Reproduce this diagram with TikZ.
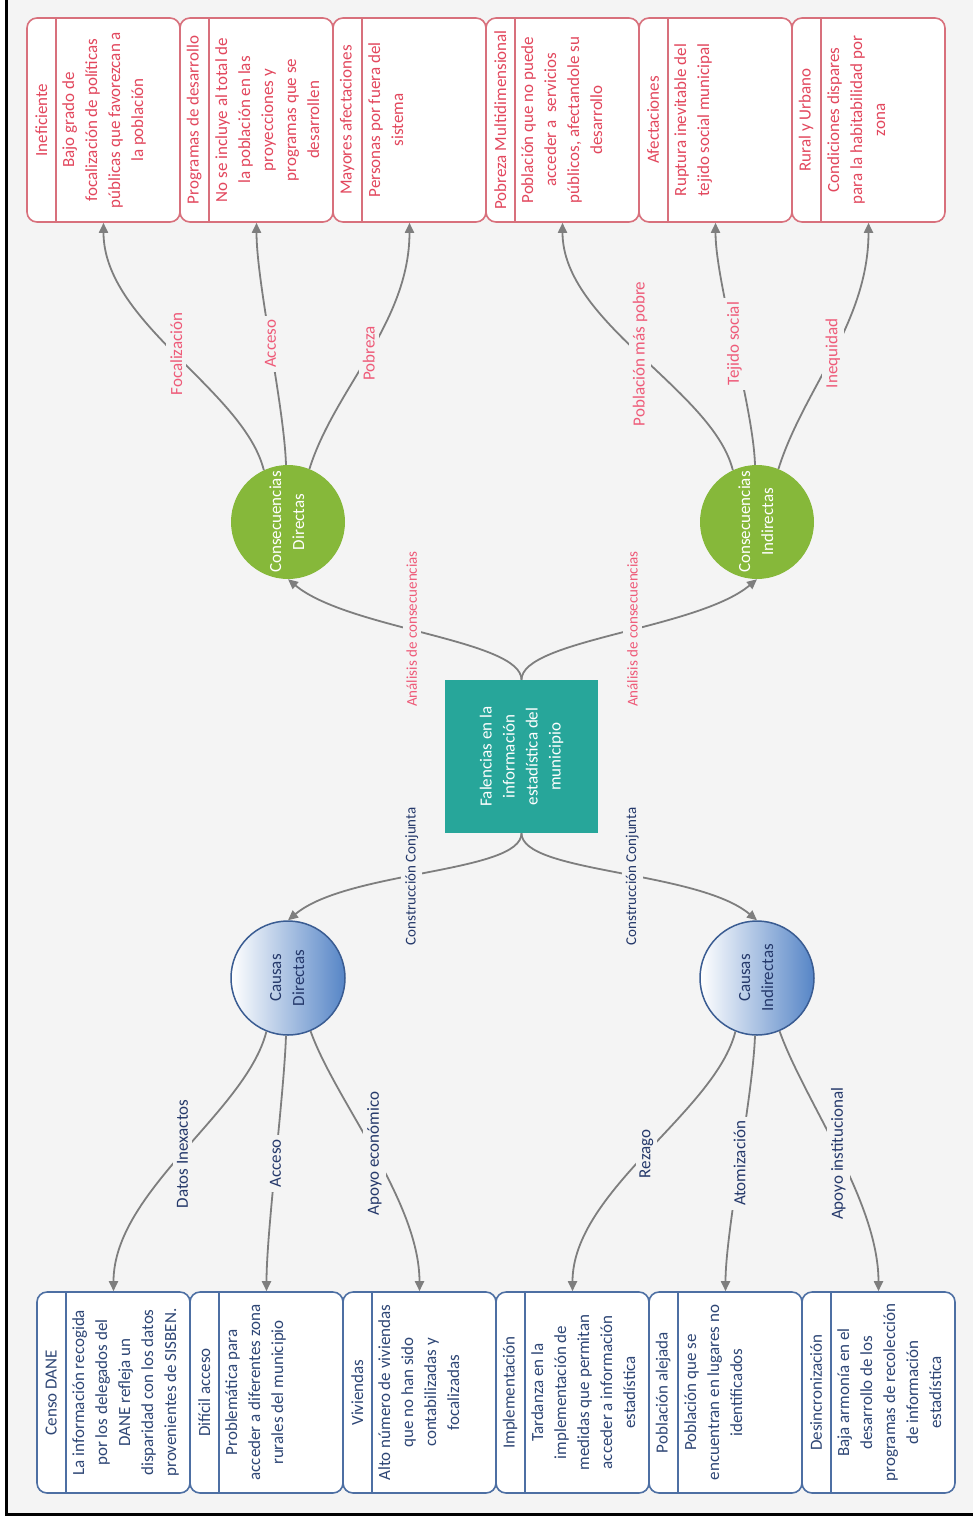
\documentclass[tikz,border=0pt]{standalone}
\usepackage{fontspec}
\setmainfont{Carlito}
\usepackage{graphicx}
\usetikzlibrary{arrows.meta}
\definecolor{bg}{HTML}{F4F4F4}
\definecolor{cblue}{HTML}{4D6FA3}
\definecolor{navy}{HTML}{24386A}
\definecolor{boxnavy}{HTML}{2E4675}
\definecolor{cred}{HTML}{D8707C}
\definecolor{redtxt}{HTML}{E2475D}
\definecolor{pinklbl}{HTML}{EE5A78}
\definecolor{tealc}{HTML}{27A69A}
\definecolor{cgreen}{HTML}{86B83A}
\definecolor{conncol}{HTML}{7E7E7E}
\definecolor{circblue}{HTML}{5685C6}
\definecolor{circborder}{HTML}{3A5C92}
\newcommand{\mkbox}[6]{%
  \node[#2box] (#1) at (#3,#4) {};
  \draw[#2line] ([xshift=30pt]#1.north west) -- ([xshift=30pt]#1.south west);
  \node[#2hdr] (#1h) at ([xshift=15pt]#1.west) {#5};
  \node[#2body] (#1t) at ([xshift=36pt]#1.west) {#6};
}
\tikzset{
  txt/.style={font=\fontsize{17}{23}\selectfont},
  bluebox/.style={draw=cblue, line width=1.6pt, fill=white, rounded corners=10pt, minimum width=153pt, minimum height=201pt, inner sep=0pt},
  blueline/.style={draw=cblue, line width=1.6pt},
  bluehdr/.style={txt, rotate=90, text=boxnavy, inner sep=0pt},
  bluebody/.style={txt, rotate=90, anchor=north, align=center, text=boxnavy, inner sep=0pt},
  redbox/.style={draw=cred, line width=1.6pt, fill=white, rounded corners=10pt, minimum width=153pt, minimum height=204pt, inner sep=0pt},
  redline/.style={draw=cred, line width=1.6pt},
  redhdr/.style={txt, rotate=90, text=redtxt, inner sep=0pt},
  redbody/.style={txt, rotate=90, anchor=north, align=center, text=redtxt, inner sep=0pt},
  conn/.style={draw=conncol, line width=1.8pt, -{Triangle[length=10pt,width=9pt]}},
  lblnavy/.style={txt, rotate=90, fill=bg, text=navy, inner sep=4pt},
  lblpink/.style={txt, rotate=90, fill=bg, text=pinklbl, inner sep=4pt},
  slblnavy/.style={font=\fontsize{15}{18}\selectfont, rotate=90, fill=bg, text=navy, inner sep=4pt},
  slblpink/.style={font=\fontsize{15}{18}\selectfont, rotate=90, fill=bg, text=pinklbl, inner sep=4pt},
  causecirc/.style={circle, minimum size=114pt, inner sep=0pt, draw=circborder, line width=1.5pt, left color=white, right color=circblue, text=navy, txt},
  conscirc/.style={circle, minimum size=114pt, inner sep=0pt, fill=cgreen, text=white, txt},
}
\begin{document}
\begin{tikzpicture}[x=1pt,y=-1pt]
\useasboundingbox (0,0) rectangle (973,1520);
\fill[white] (0,0) rectangle (973,1520);
\fill[bg] (7,0) rectangle (973,1513);
\draw[black, line width=3pt] (6.5,0) -- (6.5,1514.5) -- (973,1514.5);

% bottom boxes (causes)
\mkbox{b1}{blue}{113.5}{1392.5}{Censo DANE}{La información recogida\\por los delegados del\\DANE refleja un\\disparidad con los datos\\provenientes de SISBEN.}
\mkbox{b2}{blue}{266.5}{1392.5}{Difícil acceso}{Problemática para\\acceder a diferentes zona\\rurales del municipio}
\mkbox{b3}{blue}{419.5}{1392.5}{Viviendas}{Alto número de viviendas\\que no han sido\\contabilizadas y\\focalizadas}
\mkbox{b4}{blue}{572.5}{1392.5}{Implementación}{Tardanza en la\\implementación de\\medidas que permitan\\acceder a información\\estadística}
\mkbox{b5}{blue}{725.5}{1392.5}{Población alejada}{Población que se\\encuentran en lugares no\\identificados}
\mkbox{b6}{blue}{878.5}{1392.5}{Desincronización}{Baja armonía en el\\desarrollo de los\\programas de recolección\\de información\\estadística}

% top boxes (consequences)
\mkbox{r1}{red}{103.5}{120}{Ineficiente}{Bajo grado de\\focalización de políticas\\públicas que favorezcan a\\la población}
\mkbox{r2}{red}{256.5}{120}{Programas de desarrollo}{No se incluye al total de\\la población en las\\proyecciones y\\programas que se\\desarrollen}
\mkbox{r3}{red}{409.5}{120}{Mayores afectaciones}{Personas por fuera del\\sistema}
\mkbox{r4}{red}{562.5}{120}{Pobreza Multidimensional}{Población que no puede\\acceder a \ servicios\\públicos, afectandole su\\desarrollo}
\mkbox{r5}{red}{715.5}{120}{Afectaciones}{Ruptura inevitable del\\tejido social municipal}
\mkbox{r6}{red}{868.5}{120}{Rural y Urbano}{Condiciones dispares\\para la habitabilidad por\\zona}

% central node and circles
\node[fill=tealc, minimum width=153pt, minimum height=153pt, inner sep=0pt, text=white, txt] (fal) at (521.5,756.5)
  {\rotatebox{90}{\begin{tabular}{@{}c@{}}Falencias en la\\información\\estadística del\\municipio\end{tabular}}};
\node[causecirc] (cdir) at (288,978) {\rotatebox{90}{\begin{tabular}{@{}c@{}}Causas\\Directas\end{tabular}}};
\node[causecirc] (cind) at (757,978) {\rotatebox{90}{\begin{tabular}{@{}c@{}}Causas\\Indirectas\end{tabular}}};
\node[conscirc] (condir) at (288,522) {\rotatebox{90}{\begin{tabular}{@{}c@{}}Consecuencias\\Directas\end{tabular}}};
\node[conscirc] (conind) at (757,522) {\rotatebox{90}{\begin{tabular}{@{}c@{}}Consecuencias\\Indirectas\end{tabular}}};

% center connectors
\draw[conn] (fal.north) .. controls +(0,-40) and +(60,50) .. (condir.south)
  node[slblpink, pos=0.55] (a1) {Análisis de consecuencias};
\draw[conn] (fal.north) .. controls +(0,-40) and +(-60,50) .. (conind.south)
  node[slblpink, pos=0.55] (a2) {Análisis de consecuencias};
\draw[conn] (fal.south) .. controls +(0,40) and +(60,-50) .. (cdir.north)
  node[slblnavy, pos=0.55] (k1) {Construcción Conjunta};
\draw[conn] (fal.south) .. controls +(0,40) and +(-60,-50) .. (cind.north)
  node[slblnavy, pos=0.55] (k2) {Construcción Conjunta};

% causes connectors
\draw[conn] (cdir.-112) .. controls +(-20,80) and +(0,-100) .. (b1.north)
  node[lblnavy, pos=0.5] (c1) {Datos Inexactos};
\draw[conn] (cdir.-92) .. controls +(-2,60) and +(0,-60) .. (b2.north)
  node[lblnavy, pos=0.5] (c2) {Acceso};
\draw[conn] (cdir.-67) .. controls +(25,70) and +(0,-90) .. (b3.north)
  node[lblnavy, pos=0.5] (c3) {Apoyo económico};
\draw[conn] (cind.-112) .. controls +(-20,80) and +(0,-100) .. (b4.north)
  node[lblnavy, pos=0.5] (c4) {Rezago};
\draw[conn] (cind.-92) .. controls +(-2,60) and +(0,-60) .. (b5.north)
  node[lblnavy, pos=0.5] (c5) {Atomización};
\draw[conn] (cind.-67) .. controls +(25,70) and +(0,-90) .. (b6.north)
  node[lblnavy, pos=0.5] (c6) {Apoyo institucional};

% consequences connectors
\draw[conn] (condir.115) .. controls +(-20,-80) and +(0,100) .. (r1.south)
  node[lblpink, pos=0.5] (d1) {Focalización};
\draw[conn] (condir.92) .. controls +(-2,-60) and +(0,60) .. (r2.south)
  node[lblpink, pos=0.5] (d2) {Acceso};
\draw[conn] (condir.68) .. controls +(25,-80) and +(0,100) .. (r3.south)
  node[lblpink, pos=0.5] (d3) {Pobreza};
\draw[conn] (conind.115) .. controls +(-20,-80) and +(0,100) .. (r4.south)
  node[lblpink, pos=0.5] (d4) {Población más pobre};
\draw[conn] (conind.92) .. controls +(-2,-60) and +(0,60) .. (r5.south)
  node[lblpink, pos=0.5] (d5) {Tejido social};
\draw[conn] (conind.68) .. controls +(25,-80) and +(0,100) .. (r6.south)
  node[lblpink, pos=0.5] (d6) {Inequidad};
\end{tikzpicture}
\end{document}
